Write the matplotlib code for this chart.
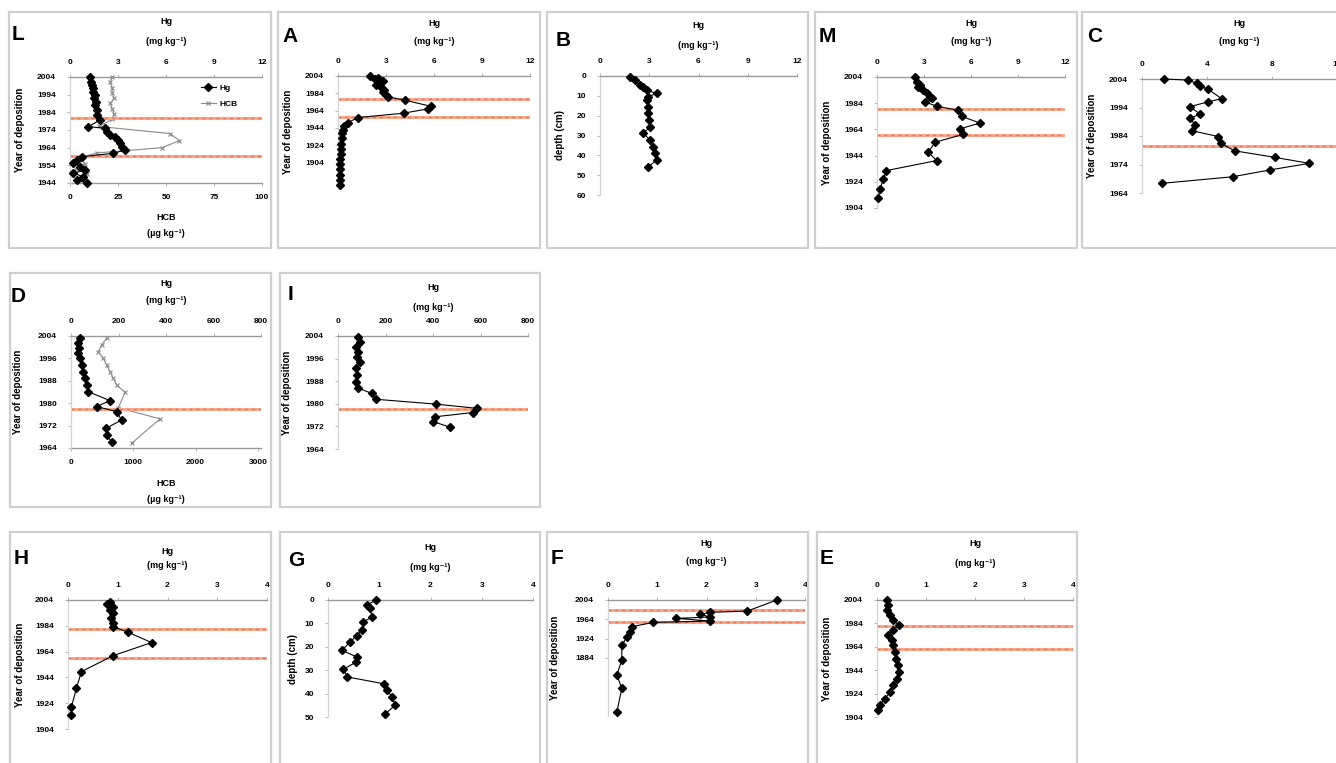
import matplotlib
matplotlib.use('Agg')
import matplotlib.pyplot as plt
from matplotlib.patches import Rectangle

plt.rcParams['font.family'] = ['Liberation Sans', 'DejaVu Sans']
plt.rcParams['font.weight'] = 'bold'

# ---------------- data ----------------
# L : Hg (mg/kg) and HCB (ug/kg) vs year
L_years_hg = [2003.8, 2001.3, 1999.5, 1997.6, 1995.7, 1993.8, 1991.9, 1990.0, 1988.2, 1985.3, 1982.5,
              1979.7, 1975.9, 1975.0, 1973.1, 1971.2, 1970.2, 1968.3, 1966.5, 1964.6, 1962.7, 1960.8,
              1958.9, 1957.0, 1955.2, 1953.3, 1951.4, 1949.5, 1947.6, 1945.7, 1943.9]
L_hg = [1.25, 1.29, 1.35, 1.46, 1.42, 1.56, 1.50, 1.63, 1.56, 1.67, 1.71,
        1.88, 1.15, 2.19, 2.29, 2.50, 2.81, 3.02, 3.13, 3.23, 3.44, 2.71,
        0.73, 0.42, 0.21, 0.63, 0.94, 0.21, 0.83, 0.42, 1.04]
L_years_hcb = [2004, 2001, 1998, 1995, 1992, 1989, 1986, 1983, 1980, 1976, 1972, 1968, 1964,
               1961, 1958, 1955, 1952, 1949, 1946]
L_hcb = [22, 21, 22, 22, 23, 21, 22, 23, 22, 15, 52, 57, 48, 14, 4, 8, 3, 9, 5]
L_red = [1981, 1959]

# A
A_years = [2004, 2002, 2000, 1998, 1996, 1994, 1991, 1988, 1985, 1982, 1980, 1976, 1969, 1966,
           1961, 1956, 1950, 1946, 1942, 1938, 1932, 1926, 1920, 1914, 1908, 1902, 1896, 1890,
           1884, 1878]
A_hg = [2.0, 2.5, 2.3, 2.8, 2.6, 2.4, 2.7, 2.9, 2.8, 3.0, 3.1, 4.2, 5.8, 5.6,
        4.1, 1.25, 0.6, 0.4, 0.3, 0.25, 0.25, 0.2, 0.2, 0.2, 0.15, 0.15, 0.15, 0.15,
        0.15, 0.15]
A_red = [1977.4, 1956.6]

# B : depth profile
B_depth = [0.3, 2.0, 4.5, 5.7, 7.1, 8.8, 10.4, 12.1, 15.5, 18.8, 22.2, 25.6, 28.9, 32.3,
           35.7, 39.0, 42.4, 45.8]
B_hg = [1.83, 2.13, 2.44, 2.64, 2.84, 3.45, 2.94, 2.84, 2.94, 2.94, 3.00, 3.05, 2.64, 3.05,
        3.25, 3.35, 3.45, 2.94]

# M
M_years = [2003.8, 2000.4, 1997.8, 1996.0, 1994.0, 1991.5, 1988.9, 1987.6, 1985.0, 1981.7,
           1978.6, 1974.0, 1968.8, 1964.5, 1960.2, 1954.2, 1946.5, 1940.2, 1932.5, 1926.1,
           1918.4, 1911.9]
M_hg = [2.43, 2.53, 2.74, 2.64, 2.96, 3.17, 3.38, 3.49, 3.06, 3.81,
        5.19, 5.40, 6.57, 5.30, 5.51, 3.70, 3.28, 3.81, 0.57, 0.40,
        0.19, 0.09]
M_red = [1979.4, 1959.4]

# C
C_years = [2004, 2003.6, 2002.5, 2001.5, 2000.4, 1997.1, 1996.0, 1994.3, 1991.7, 1990.2,
           1987.9, 1985.9, 1983.8, 1981.4, 1978.8, 1976.5, 1974.4, 1972.1, 1969.7, 1967.4]
C_hg = [1.37, 2.85, 3.36, 3.57, 4.08, 4.90, 4.08, 2.95, 3.57, 2.95,
        3.26, 3.05, 4.70, 4.86, 5.70, 8.18, 10.3, 7.87, 5.58, 1.25]
C_red = [1980.5]

# D : Hg (mg/kg) and HCB (ug/kg)
D_years_hg = [2003.2, 2001.4, 1999.6, 1997.8, 1996.0, 1993.6, 1991.3, 1988.9, 1986.5, 1984.1,
              1980.9, 1978.8, 1977.0, 1974.0, 1971.0, 1968.6, 1966.3]
D_hg = [38, 31, 34, 31, 38, 45, 52, 59, 66, 73, 164, 108, 192, 213, 147, 150, 171]
D_years_hcb = [2003.2, 2000.8, 1998.4, 1996.0, 1993.6, 1991.3, 1988.9, 1986.5, 1983.9,
               1978.4, 1974.4, 1965.7]
D_hcb = [573, 492, 439, 519, 573, 626, 680, 733, 867, 760, 1429, 974]
D_red = [1977.9]

# I
I_years = [2003.8, 2002.0, 2000.2, 1998.4, 1996.7, 1994.9, 1992.6, 1990.2, 1987.8, 1985.5,
           1983.7, 1981.6, 1979.9, 1978.4, 1976.9, 1975.4, 1973.7, 1971.7]
I_hg = [86, 93, 76, 86, 81, 93, 76, 81, 76, 86, 142, 160, 411, 584, 567, 408, 401, 472]
I_red = [1978]

# H
H_years = [2002.7, 2000.7, 1998.8, 1996.2, 1993.7, 1989.8, 1985.9, 1983.3, 1979.0, 1971.0,
           1960.9, 1948.5, 1935.6, 1921.3, 1914.9]
H_hg = [0.84, 0.79, 0.90, 0.84, 0.91, 0.87, 0.91, 0.91, 1.21, 1.68, 0.91, 0.27, 0.17, 0.07, 0.07]
H_red = [1981.5, 1959]

# G : depth profile
G_depth = [0.0, 2.1, 3.6, 7.2, 9.4, 13.0, 15.2, 18.0, 21.5, 24.3, 26.5, 29.6, 32.9, 35.8,
           38.6, 41.5, 45.0, 48.6]
G_hg = [0.94, 0.76, 0.82, 0.86, 0.69, 0.66, 0.56, 0.43, 0.27, 0.56, 0.55, 0.30, 0.38, 1.09,
        1.16, 1.25, 1.31, 1.12]

# F
F_years = [2004, 1981.2, 1978.5, 1974.3, 1968.8, 1966.0, 1960.5, 1957.7, 1948.7, 1938.4,
           1928.0, 1910.7, 1879.6, 1848.6, 1821.0, 1772.5]
F_hg = [3.43, 2.83, 2.08, 1.87, 2.08, 1.39, 2.08, 0.92, 0.48, 0.45, 0.39, 0.28, 0.28, 0.18,
        0.28, 0.18]
F_red = [1983, 1958]

# E
E_years = [2004, 1999.7, 1995.4, 1991.1, 1986.8, 1982.5, 1978.2, 1974.0, 1969.7, 1965.4,
           1959.6, 1954.0, 1948.2, 1942.5, 1936.8, 1931.0, 1925.3, 1919.6, 1913.9, 1909.6]
E_hg = [0.20, 0.23, 0.20, 0.27, 0.33, 0.44, 0.33, 0.23, 0.30, 0.33,
        0.37, 0.39, 0.42, 0.44, 0.40, 0.33, 0.27, 0.16, 0.06, 0.03]
E_red = [1981.7, 1962]

# ---------------- figure ----------------
W, H = 1336, 763
fig = plt.figure(figsize=(W / 100, H / 100), dpi=100)
fig.patch.set_facecolor('white')


def px_ax(x0, x1, y0, y1):
    return fig.add_axes([x0 / W, 1 - y1 / H, (x1 - x0) / W, (y1 - y0) / H])


def px_text(x, y, s, **kw):
    kw.setdefault('ha', 'center')
    kw.setdefault('va', 'center')
    fig.text(x / W, 1 - y / H, s, **kw)


def frame(x0, x1, y0, y1):
    fig.patches.append(Rectangle((x0 / W, 1 - y1 / H), (x1 - x0) / W, (y1 - y0) / H,
                                 transform=fig.transFigure, fill=False,
                                 ec='#cfcfcf', lw=1.6, zorder=0))


def red_lines(ax, years):
    for yr in years:
        ax.axhline(yr, color='#f6a88c', lw=2.2, zorder=1)
        ax.axhline(yr, color='#ee7050', lw=1.0, ls=(0, (2, 3)), zorder=1)


def hg_plot(ax, x, y):
    return ax.plot(x, y, '-', color='black', lw=0.8, marker='D', ms=3.8,
                   clip_on=False, zorder=5)[0]


def panel(fbox, letter, lxy, abox, xlim, xticks, ylim, yticks,
          ylabel='Year of deposition', ydx=50, hg_y=(-53, -35)):
    frame(*fbox)
    px_text(lxy[0], lxy[1], letter, fontsize=15, ha='left')
    x0, x1, y0, y1 = abox
    ax = px_ax(x0, x1, y0, y1)
    ax.set_xlim(*xlim)
    ax.set_ylim(*ylim)
    ax.set_xticks(xticks)
    ax.set_yticks(yticks)
    ax.xaxis.tick_top()
    ax.tick_params(axis='x', labelsize=6, length=2, width=0.6, color='#aaaaaa', pad=6)
    ax.tick_params(axis='y', labelsize=6, length=2, width=0.6, color='#aaaaaa', pad=8)
    ax.spines['right'].set_visible(False)
    ax.spines['bottom'].set_visible(False)
    ax.spines['top'].set_color('#999999')
    ax.spines['top'].set_linewidth(1.0)
    ax.spines['left'].set_color('#d4d4d4')
    ax.spines['left'].set_linewidth(0.9)
    cx = (x0 + x1) / 2
    px_text(cx, y0 + hg_y[0], 'Hg', fontsize=6.5)
    px_text(cx, y0 + hg_y[1], '(mg kg⁻¹)', fontsize=6.5)
    px_text(x0 - ydx, (y0 + y1) / 2, ylabel, fontsize=7, rotation=90)
    return ax


def hcb_axis(ax, xlim, xticks, y1, x0, x1):
    ax2 = ax.twiny()
    # twiny moves the host ticks to the bottom, put them back on top
    ax.xaxis.tick_top()
    ax2.set_xlim(*xlim)
    ax2.set_xticks(xticks)
    ax2.xaxis.tick_bottom()
    ax2.tick_params(axis='x', labelsize=6, length=2, width=0.6, color='#aaaaaa', pad=6)
    for s in ['top', 'right', 'left']:
        ax2.spines[s].set_visible(False)
    ax2.spines['bottom'].set_visible(True)
    ax2.spines['bottom'].set_color('#999999')
    ax2.spines['bottom'].set_linewidth(1.0)
    ax.set_zorder(ax2.get_zorder() + 1)
    ax.patch.set_visible(False)
    cx = (x0 + x1) / 2
    px_text(cx, y1 + 35, 'HCB', fontsize=6.5)
    px_text(cx, y1 + 51, '(µg kg⁻¹)', fontsize=6.5)
    return ax2


hg12 = [0, 3, 6, 9, 12]
hg4 = [0, 1, 2, 3, 4]

# ---- row 1 ----
ax = panel((9, 271, 12, 248), 'L', (12, 35), (70, 262, 77, 183), (0, 12), hg12,
           (1944, 2004), list(range(2004, 1943, -10)), hg_y=(-55, -36))
ax2 = hcb_axis(ax, (0, 100), [0, 25, 50, 75, 100], 183, 70, 262)
red_lines(ax, L_red)
l_hg = hg_plot(ax, L_hg, L_years_hg)
l_hcb = ax2.plot(L_hcb, L_years_hcb, '-', color='#8a8a8a', lw=0.8, marker='x', ms=3.5,
                 mew=0.8, clip_on=False)[0]
ax.legend([l_hg, l_hcb], ['Hg', 'HCB'], loc='upper left', bbox_to_anchor=(0.66, 0.97),
          frameon=False, fontsize=6, handlelength=1.8, labelspacing=0.9, borderpad=0,
          handletextpad=0.4)

ax = panel((278, 540, 12, 248), 'A', (282, 37), (338, 530, 76, 188.5), (0, 12), hg12,
           (1874, 2004), list(range(2004, 1903, -20)), hg_y=(-53, -34))
red_lines(ax, A_red)
hg_plot(ax, A_hg, A_years)

ax = panel((547, 808, 12, 248), 'B', (556, 40), (600, 797, 76, 195), (0, 12), hg12,
           (60, 0), list(range(0, 61, 10)), ylabel='depth (cm)', ydx=40, hg_y=(-50, -31))
hg_plot(ax, B_hg, B_depth)

ax = panel((815, 1077, 12, 248), 'M', (819, 37), (877, 1065, 77, 208), (0, 12), hg12,
           (1904, 2004), list(range(2004, 1903, -20)), hg_y=(-54, -35))
red_lines(ax, M_red)
hg_plot(ax, M_hg, M_years)

ax = panel((1082, 1345, 12, 248), 'C', (1087, 37), (1142, 1337, 79, 193), (0, 12),
           [0, 4, 8, 12], (1964, 2004), list(range(2004, 1963, -10)), hg_y=(-56, -37))
red_lines(ax, C_red)
hg_plot(ax, C_hg, C_years)

# ---- row 2 ----
ax = panel((10, 271, 273, 507), 'D', (11, 297), (71, 261, 336, 448), (0, 800),
           [0, 200, 400, 600, 800], (1964, 2004), list(range(2004, 1963, -8)), ydx=53,
           hg_y=(-52, -36))
ax2 = hcb_axis(ax, (0, 3050), [0, 1000, 2000, 3000], 448, 71, 261)
red_lines(ax, D_red)
hg_plot(ax, D_hg, D_years_hg)
ax2.plot(D_hcb, D_years_hcb, '-', color='#8a8a8a', lw=0.8, marker='x', ms=3.5, mew=0.8,
         clip_on=False)

ax = panel((280, 540, 273, 507), 'I', (288, 295), (338, 528, 336, 449), (0, 800),
           [0, 200, 400, 600, 800], (1964, 2004), list(range(2004, 1963, -8)), ydx=51,
           hg_y=(-48, -29))
red_lines(ax, I_red)
hg_plot(ax, I_hg, I_years)

# ---- row 3 ----
ax = panel((10, 271, 532, 775), 'H', (14, 558), (68, 267, 600, 729), (0, 4), hg4,
           (1904, 2004), list(range(2004, 1903, -20)), ydx=48, hg_y=(-48, -35))
red_lines(ax, H_red)
hg_plot(ax, H_hg, H_years)

ax = panel((280, 540, 532, 775), 'G', (288, 560), (328, 533, 600, 717), (0, 4), hg4,
           (50, 0), list(range(0, 51, 10)), ylabel='depth (cm)', ydx=35, hg_y=(-53, -33))
hg_plot(ax, G_hg, G_depth)

ax = panel((547, 808, 532, 775), 'F', (551, 558), (608, 805, 600, 716), (0, 4), hg4,
           (1764, 2004), [2004, 1964, 1924, 1884], ydx=53, hg_y=(-56, -38))
red_lines(ax, F_red)
hg_plot(ax, F_hg, F_years)

ax = panel((817, 1077, 532, 775), 'E', (820, 558), (877, 1073, 600, 717), (0, 4), hg4,
           (1904, 2004), list(range(2004, 1903, -20)), hg_y=(-57, -37))
red_lines(ax, E_red)
hg_plot(ax, E_hg, E_years)

fig.savefig('out.png', dpi=100, facecolor='white')
